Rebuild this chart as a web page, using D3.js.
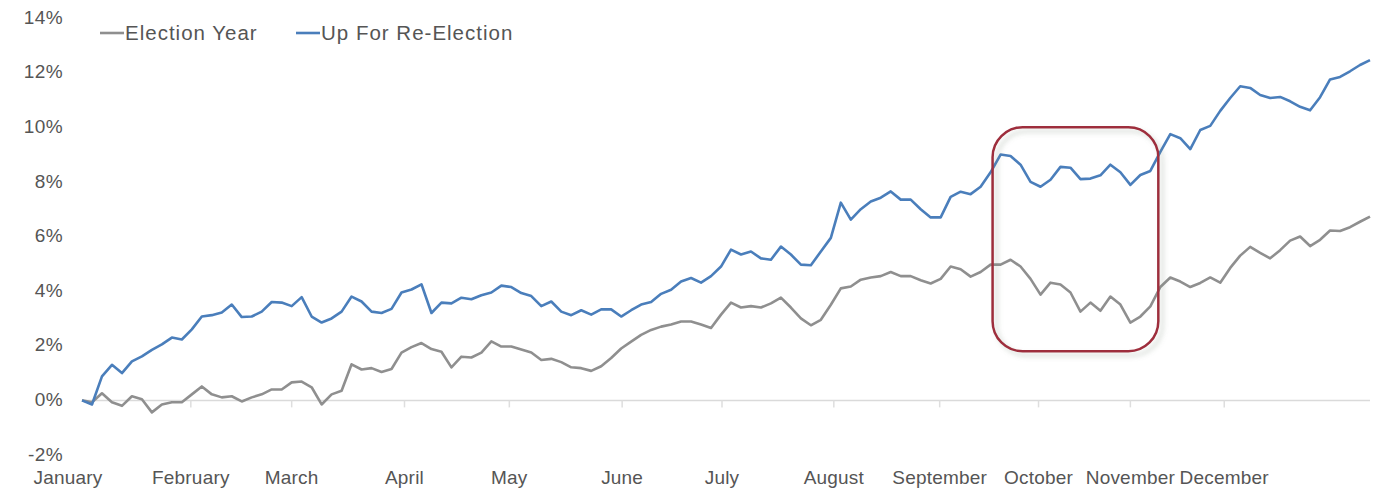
<!DOCTYPE html>
<html>
<head>
<meta charset="utf-8">
<script src="https://cdn.jsdelivr.net/npm/d3@7"></script>
<style>
  body { margin: 0; background: #fff; }
  svg { display: block; font-family: "Liberation Sans", Arial, sans-serif; }
</style>
</head>
<body>
<svg id="chart" width="1381" height="493"></svg>
<script>
// cumulative return (%), one reading every ~2 trading days
var electionYear = [
  0.00, -0.07, 0.26, -0.07, -0.20, 0.15, 0.04, -0.44, -0.15, -0.07,
  -0.07, 0.22, 0.51, 0.22, 0.11, 0.15, -0.04, 0.11, 0.22, 0.40,
  0.40, 0.66, 0.69, 0.48, -0.15, 0.22, 0.35, 1.32, 1.13, 1.18,
  1.04, 1.15, 1.75, 1.95, 2.10, 1.88, 1.78, 1.21, 1.60, 1.57,
  1.75, 2.16, 1.97, 1.97, 1.86, 1.75, 1.48, 1.52, 1.40, 1.21,
  1.18, 1.08, 1.25, 1.55, 1.90, 2.15, 2.40, 2.58, 2.70, 2.78,
  2.89, 2.89, 2.78, 2.65, 3.14, 3.58, 3.40, 3.45, 3.40, 3.55,
  3.76, 3.40, 3.00, 2.75, 2.95, 3.50, 4.10, 4.17, 4.42, 4.50,
  4.55, 4.70, 4.55, 4.55, 4.40, 4.28, 4.45, 4.90, 4.80, 4.53,
  4.70, 4.97, 4.97, 5.15, 4.90, 4.45, 3.87, 4.31, 4.24, 3.95,
  3.25, 3.58, 3.28, 3.80, 3.51, 2.85, 3.07, 3.44, 4.15, 4.50,
  4.35, 4.15, 4.30, 4.50, 4.31, 4.85, 5.30, 5.62, 5.40, 5.20,
  5.50, 5.85, 6.00, 5.65, 5.88, 6.22, 6.20, 6.34, 6.54, 6.73
]
var upForReElection = [
  0.00, -0.15, 0.88, 1.30, 1.00, 1.43, 1.61, 1.85, 2.05, 2.30,
  2.23, 2.60, 3.07, 3.12, 3.22, 3.51, 3.05, 3.07, 3.25, 3.60,
  3.58, 3.45, 3.78, 3.07, 2.85, 3.00, 3.25, 3.80, 3.62, 3.25,
  3.20, 3.35, 3.95, 4.06, 4.25, 3.20, 3.58, 3.55, 3.76, 3.70,
  3.85, 3.95, 4.20, 4.15, 3.93, 3.82, 3.45, 3.62, 3.25, 3.12,
  3.30, 3.14, 3.33, 3.33, 3.07, 3.30, 3.51, 3.60, 3.90, 4.05,
  4.35, 4.48, 4.31, 4.55, 4.90, 5.52, 5.34, 5.45, 5.20, 5.15,
  5.63, 5.34, 4.97, 4.95, 5.45, 5.95, 7.24, 6.62, 7.00, 7.28,
  7.42, 7.65, 7.35, 7.35, 7.00, 6.70, 6.70, 7.45, 7.64, 7.55,
  7.82, 8.35, 9.00, 8.95, 8.63, 8.00, 7.82, 8.08, 8.55, 8.52,
  8.10, 8.12, 8.24, 8.63, 8.35, 7.89, 8.25, 8.40, 9.10, 9.75,
  9.60, 9.20, 9.90, 10.05, 10.60, 11.07, 11.50, 11.44, 11.18, 11.07,
  11.11, 10.95, 10.75, 10.62, 11.10, 11.75, 11.84, 12.05, 12.28, 12.46
]
var months = ["January", "February", "March", "April", "May", "June",
  "July", "August", "September", "October", "November", "December"]
// position of each month label, in reading index
var monthPos = [-1.4, 10.9, 21.0, 32.3, 42.8, 54.1, 64.1, 75.3, 85.9, 95.8, 105.0, 114.4]
var yTicks = [-2, 0, 2, 4, 6, 8, 10, 12, 14]
// highlighted stretch: reading index from/to, value from/to
var highlight = { i0: 91.2, i1: 107.8, v0: 1.8, v1: 10.0 }

var seriesNames = ["Election Year", "Up For Re-Election"]
var seriesColors = ["#8f8f8f", "#4a7ebb"]

const svg = d3.select("#chart")
const textColor = "#555"

const x = d3.scaleLinear().domain([0, electionYear.length - 1]).range([82, 1370])
const y = d3.scaleLinear().domain([-2, 14]).range([455, 18])

// zero line
svg.append("line")
    .attr("x1", x(0))
    .attr("x2", x(electionYear.length - 1))
    .attr("y1", y(0))
    .attr("y2", y(0))
    .style("stroke", "#dadada")
    .style("stroke-width", 1.5)

// month ticks hanging off the zero line
svg.append("g")
    .selectAll("line")
    .data(monthPos.filter(p => p >= 0))
    .enter()
    .append("line")
    .attr("x1", d => x(d))
    .attr("x2", d => x(d))
    .attr("y1", y(0))
    .attr("y2", y(0) + 7)
    .style("stroke", "#dedede")
    .style("stroke-width", 1.5)

// y labels
svg.append("g")
    .selectAll("text")
    .data(yTicks)
    .enter()
    .append("text")
    .attr("x", 63)
    .attr("y", d => y(d))
    .attr("dy", "0.3em")
    .attr("text-anchor", "end")
    .attr("font-size", 19)
    .attr("letter-spacing", 0.4)
    .attr("fill", textColor)
    .text(d => d + "%")

// month labels
svg.append("g")
    .selectAll("text")
    .data(months)
    .enter()
    .append("text")
    .attr("x", (d, i) => x(monthPos[i]))
    .attr("y", 477)
    .attr("dy", "0.35em")
    .attr("text-anchor", "middle")
    .attr("font-size", 19)
    .attr("letter-spacing", 0.2)
    .attr("fill", textColor)
    .text(d => d)

const line = d3.line()
    .x((d, i) => x(i))
    .y(d => y(d))

;[electionYear, upForReElection].forEach(function (series, k) {
    svg.append("path")
        .datum(series)
        .attr("d", line)
        .style("fill", "none")
        .style("stroke", seriesColors[k])
        .style("stroke-width", 2.6)
        .style("stroke-linejoin", "round")
})

// legend
const legendX = [100, 296]
const legend = svg.append("g")
seriesNames.forEach(function (name, k) {
    legend.append("line")
        .attr("x1", legendX[k])
        .attr("x2", legendX[k] + 24)
        .attr("y1", 33)
        .attr("y2", 33)
        .style("stroke", seriesColors[k])
        .style("stroke-width", 2.6)
    legend.append("text")
        .attr("x", legendX[k] + 25)
        .attr("y", 33)
        .attr("dy", "0.35em")
        .attr("font-size", 20.5)
        .attr("letter-spacing", 1)
        .attr("fill", textColor)
        .text(name)
})

// rounded highlight box with soft shadow
const defs = svg.append("defs")
const shadow = defs.append("filter")
    .attr("id", "boxShadow")
    .attr("x", "-10%").attr("y", "-10%")
    .attr("width", "130%").attr("height", "130%")
shadow.append("feDropShadow")
    .attr("dx", 4).attr("dy", 4)
    .attr("stdDeviation", 2.5)
    .attr("flood-color", "#7a8a7a")
    .attr("flood-opacity", 0.35)

svg.append("rect")
    .attr("x", x(highlight.i0))
    .attr("y", y(highlight.v1))
    .attr("width", x(highlight.i1) - x(highlight.i0))
    .attr("height", y(highlight.v0) - y(highlight.v1))
    .attr("rx", 30)
    .attr("ry", 30)
    .attr("filter", "url(#boxShadow)")
    .style("fill", "none")
    .style("stroke", "#9e2f3d")
    .style("stroke-width", 2.5)
</script>
</body>
</html>
